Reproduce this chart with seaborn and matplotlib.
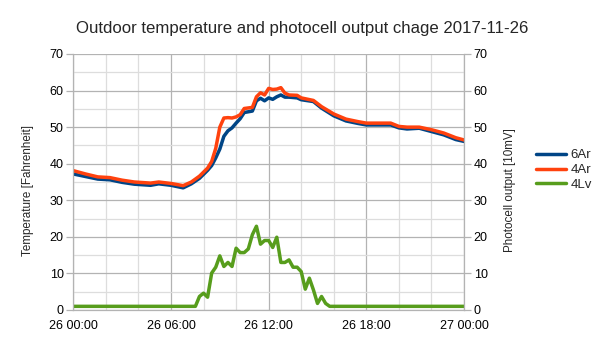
import numpy as np
import pandas as pd
import matplotlib
matplotlib.use("Agg")
import matplotlib.pyplot as plt
import matplotlib.dates as mdates
from matplotlib.ticker import MultipleLocator
import seaborn as sns

# ---- data ----
title = "Outdoor temperature and photocell output chage 2017-11-26"
series_names = ["6Ar", "4Ar", "4Lv"]
series_colors = ["#004586", "#ff420e", "#579d1c"]

temp_hours = [0, 0.75, 1.5, 2.25, 3.0, 3.75, 4.75, 5.25, 6.0, 6.75, 7.25, 7.75,
              8.25, 8.5, 8.75, 9.0, 9.25, 9.5, 9.75, 10.0, 10.25, 10.5, 11.0,
              11.25, 11.5, 11.75, 12.0, 12.25, 12.5, 12.75, 13.0, 13.25, 13.75,
              14.0, 14.75, 15.25, 16.0, 16.75, 17.5, 18.0, 18.5, 19.5, 20.0,
              20.5, 21.25, 22.0, 22.75, 23.5, 24.0]
temp_6ar = [37.2, 36.5, 35.8, 35.6, 34.9, 34.4, 34.1, 34.5, 34.1, 33.4, 34.5, 36.0,
            38.2, 39.5, 41.6, 44.0, 47.5, 49.0, 49.8, 51.1, 52.3, 54.0, 54.4,
            57.2, 57.9, 57.2, 58.0, 57.6, 58.3, 58.8, 58.2, 58.2, 58.0,
            57.5, 57.0, 55.2, 53.1, 51.7, 51.0, 50.6, 50.6, 50.6, 49.8,
            49.5, 49.7, 48.8, 47.9, 46.6, 46.1]
temp_4ar = [38.1, 37.2, 36.4, 36.2, 35.5, 35.0, 34.7, 35.0, 34.6, 34.0, 35.0, 36.6,
            38.8, 40.6, 44.2, 50.0, 52.5, 52.6, 52.5, 52.8, 53.4, 55.1, 55.4,
            58.3, 59.4, 58.8, 60.6, 60.3, 60.4, 60.8, 59.3, 58.8, 58.7,
            58.0, 57.3, 55.6, 53.6, 52.2, 51.5, 51.1, 51.1, 51.1, 50.2,
            50.0, 50.0, 49.3, 48.4, 47.1, 46.5]

light_hours = [0, 7.5, 7.75, 8.0, 8.25, 8.5, 8.75, 9.0, 9.25, 9.5, 9.75, 10.0,
               10.25, 10.5, 10.75, 11.0, 11.25, 11.5, 11.75, 12.0, 12.25, 12.5,
               12.75, 13.0, 13.25, 13.5, 13.75, 14.0, 14.25, 14.5, 14.75, 15.0,
               15.25, 15.5, 15.75, 24.0]
light_4lv = [1, 1, 3.7, 4.6, 3.5, 10.1, 11.7, 14.8, 11.9, 13.0, 11.9, 16.9,
             15.7, 15.7, 16.7, 20.6, 22.9, 18.0, 19.0, 19.0, 17.1, 19.9,
             13.0, 13.0, 13.7, 11.7, 11.7, 10.5, 5.7, 8.7, 5.5, 1.8,
             3.7, 1.8, 1, 1]

y_ticks = [0, 10, 20, 30, 40, 50, 60, 70]

# ---- build long-form table ----
start = pd.Timestamp("2017-11-26 00:00")
def to_time(hours):
    return [start + pd.Timedelta(hours=h) for h in hours]

df = pd.concat([
    pd.DataFrame({"time": to_time(temp_hours), "value": temp_6ar, "series": "6Ar"}),
    pd.DataFrame({"time": to_time(temp_hours), "value": temp_4ar, "series": "4Ar"}),
    pd.DataFrame({"time": to_time(light_hours), "value": light_4lv, "series": "4Lv"}),
], ignore_index=True)

# ---- style ----
sns.set_style("white")
plt.rcParams["font.family"] = ["Liberation Sans", "DejaVu Sans"]

fig = plt.figure(figsize=(6.05, 3.4), dpi=100)
ax_l, ax_r, ax_t, ax_b = 73.3, 464.0, 54.0, 310.0
ax = fig.add_axes([ax_l / 605, 1 - ax_b / 340, (ax_r - ax_l) / 605, (ax_b - ax_t) / 340])

sns.lineplot(data=df, x="time", y="value", hue="series", hue_order=series_names,
             palette=dict(zip(series_names, series_colors)), linewidth=2.5,
             ax=ax, legend=True, estimator=None, sort=True)

handles, labels = ax.get_legend_handles_labels()
ax.get_legend().remove()

ax.set_xlim(start, start + pd.Timedelta(hours=24))
ax.set_ylim(0, 70)
ax.set_yticks(y_ticks)
ax.yaxis.set_minor_locator(MultipleLocator(5))
ax.xaxis.set_major_locator(mdates.HourLocator(byhour=[0, 6, 12, 18]))
ax.xaxis.set_minor_locator(mdates.HourLocator(byhour=list(range(0, 24, 2))))
ax.xaxis.set_major_formatter(mdates.DateFormatter("%d %H:%M"))

ax.grid(which="major", color="#b3b3b3", linewidth=0.9)
ax.grid(which="minor", color="#dddddd", linewidth=0.9)
ax.set_axisbelow(True)

for s in ax.spines.values():
    s.set_color("#b3b3b3")
    s.set_linewidth(0.9)
ax.spines["top"].set_visible(False)

ax.tick_params(which="major", direction="out", length=5, width=0.9, color="#b3b3b3",
               labelsize=9, labelcolor="#000000", pad=2)
ax.tick_params(which="minor", length=0)
ax.set_xlabel("")
ax.set_ylabel("Temperature [Fahrenheit]", fontsize=8.4)
w = ax_r - ax_l
h = ax_b - ax_t
ax.yaxis.set_label_coords((33.5 - ax_l) / w, (ax_b - 190) / h)

ax2 = ax.twinx()
ax2.set_ylim(0, 70)
ax2.set_yticks(y_ticks)
for s in ax2.spines.values():
    s.set_visible(False)
ax2.tick_params(which="major", direction="out", length=5, width=0.9, color="#b3b3b3",
                labelsize=9, labelcolor="#000000", pad=2)
ax2.set_ylabel("Photocell output [10mV]", fontsize=8.4)
ax2.yaxis.set_label_coords((504.5 - ax_l) / w, (ax_b - 190) / h)
ax2.grid(False)

fig.text(302 / 605, 1 - 28 / 340, title, ha="center", va="center", fontsize=12.1)

fig.legend(handles, labels, loc="center left", bbox_to_anchor=(536 / 605, 1 - 170 / 340),
           frameon=False, fontsize=9.5, handlelength=2.3, handletextpad=0.3,
           labelspacing=0.2, borderpad=0, borderaxespad=0)

fig.savefig("out.png", dpi=100)
